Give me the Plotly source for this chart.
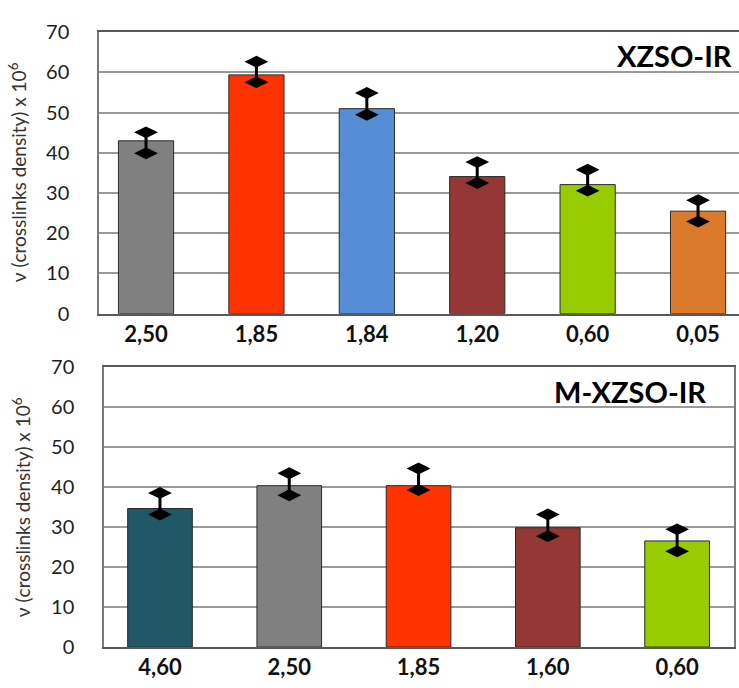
import plotly.graph_objects as go

# Upper panel: XZSO-IR
cats_top = ["2,50", "1,85", "1,84", "1,20", "0,60", "0,05"]
vals_top = [43.0, 59.4, 51.0, 34.1, 32.1, 25.5]
err_up_top = [2.1, 3.3, 3.9, 3.6, 3.7, 2.7]
err_down_top = [3.1, 1.8, 1.5, 1.6, 1.5, 2.6]
colors_top = ["#808080", "#FF3300", "#558ED5", "#953735", "#99CC00", "#DC7A2C"]

# Lower panel: M-XZSO-IR
cats_bot = ["4,60", "2,50", "1,85", "1,60", "0,60"]
vals_bot = [34.6, 40.3, 40.3, 29.8, 26.5]
err_up_bot = [3.9, 3.1, 4.3, 3.3, 2.9]
err_down_bot = [1.5, 2.4, 1.1, 2.1, 2.6]
colors_bot = ["#215868", "#808080", "#FF3300", "#953735", "#99CC00"]

y_ticks = [0, 10, 20, 30, 40, 50, 60, 70]
y_title = "ν (crosslinks density) x 10<sup>6</sup>"

FONT = "Lato"
W, H = 739, 688


def err_xy(cats, vals, up, down):
    xs, ys = [], []
    for c, v, u, d in zip(cats, vals, up, down):
        xs += [c, c, None]
        ys += [v - d, v + u, None]
    return xs, ys


fig = go.Figure()

for cats, vals, up, down, cols, xa, ya in [
    (cats_top, vals_top, err_up_top, err_down_top, colors_top, "x", "y"),
    (cats_bot, vals_bot, err_up_bot, err_down_bot, colors_bot, "x2", "y2"),
]:
    fig.add_trace(go.Bar(
        x=cats, y=vals, width=0.5, xaxis=xa, yaxis=ya,
        marker=dict(color=cols, line=dict(color="#2a2a2a", width=1)),
        showlegend=False,
    ))
    ex, ey = err_xy(cats, vals, up, down)
    fig.add_trace(go.Scatter(
        x=ex, y=ey, xaxis=xa, yaxis=ya, mode="lines+markers",
        line=dict(color="black", width=3),
        marker=dict(symbol="diamond-wide", size=17, color="black"),
        showlegend=False, cliponaxis=False,
    ))

grid = "#9a9a9a"
frame = "#7a7a7a"
ytick_font = dict(family=FONT, size=20, color="#1e1e1e")
xtick_font = dict(family=FONT, size=22, color="#111111", weight="bold")

common_y = dict(
    range=[0, 70], tickvals=y_ticks, showgrid=True, gridcolor=grid, gridwidth=1.5,
    showline=True, linecolor=frame, linewidth=1.5, ticks="", tickfont=ytick_font,
    ticklabelstandoff=24, zeroline=False, fixedrange=True,
)
common_x = dict(
    type="category", showline=True, linecolor="#595959", linewidth=1.5,
    ticks="", tickfont=xtick_font, showgrid=False, fixedrange=True,
)

fig.update_layout(
    width=W, height=H,
    margin=dict(l=0, r=0, t=0, b=0),
    paper_bgcolor="white", plot_bgcolor="white",
    xaxis=dict(common_x, domain=[99 / W, 1.0], range=[-0.426, 5.371],
               mirror=True, anchor="y"),
    yaxis=dict(common_y, domain=[(H - 311.5) / H, (H - 20) / H], anchor="x"),
    xaxis2=dict(common_x, domain=[104 / W, 734 / W], range=[-0.433, 4.44],
                mirror=True, anchor="y2"),
    yaxis2=dict(common_y, domain=[(H - 657) / H, (H - 366.5) / H], mirror=True,
                anchor="x2"),
    annotations=[
        dict(text="XZSO-IR", xref="paper", yref="paper", x=734 / W, y=(H - 44) / H,
             xanchor="right", yanchor="middle", showarrow=False,
             font=dict(family=FONT, size=29, color="black", weight="bold")),
        dict(text="M-XZSO-IR", xref="paper", yref="paper", x=708 / W, y=(H - 392) / H,
             xanchor="right", yanchor="middle", showarrow=False,
             font=dict(family=FONT, size=29, color="black", weight="bold")),
        dict(text=y_title, xref="paper", yref="paper", x=17 / W, y=(H - 165) / H,
             xanchor="center", yanchor="middle", textangle=-90, showarrow=False,
             font=dict(family=FONT, size=19, color="#333333")),
        dict(text=y_title, xref="paper", yref="paper", x=21 / W, y=(H - 512) / H,
             xanchor="center", yanchor="middle", textangle=-90, showarrow=False,
             font=dict(family=FONT, size=19, color="#333333")),
    ],
)

fig.write_html("out.html")
